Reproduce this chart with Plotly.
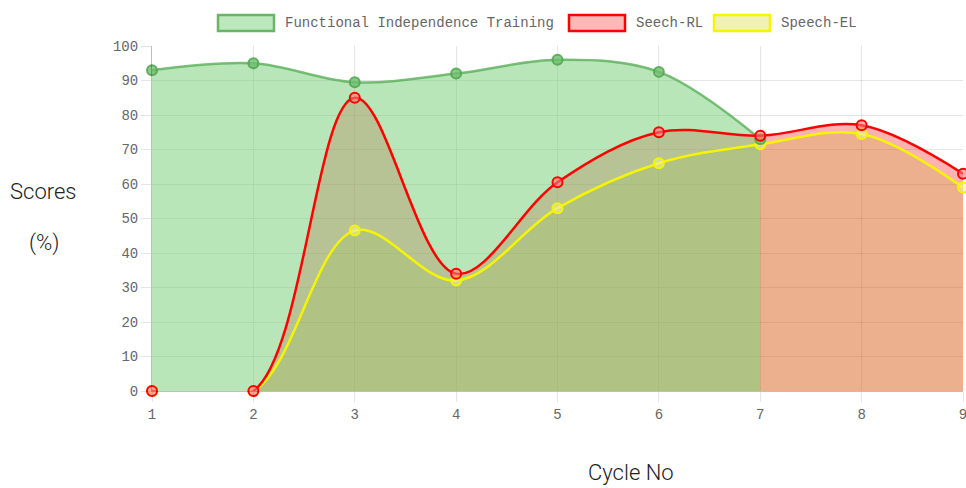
import plotly.graph_objects as go

cycles = [1, 2, 3, 4, 5, 6, 7, 8, 9]
fit_cycles = [1, 2, 3, 4, 5, 6, 7]
fit_scores = [93, 95, 89.5, 92, 96, 92.5, 73]
speech_rl = [0, 0, 85, 34, 60.5, 75, 74, 77, 63]
speech_el = [0, 0, 46.5, 32, 53, 66, 71.5, 74.5, 59]
series_names = ["Functional Independence Training", "Seech-RL", "Speech-EL"]
y_ticks = [0, 10, 20, 30, 40, 50, 60, 70, 80, 90, 100]

W, H = 966, 488
ML, MR, MT, MB = 152, 3, 46, 97
PW, PH = W - ML - MR, H - MT - MB


def px(x):  # screenshot x -> paper
    return (x - ML) / PW


def py(y):  # screenshot y -> paper
    return (H - MB - y) / PH


fig = go.Figure()

RED, YEL, GRN = "#ff0000", "#f5f500", "rgba(90,175,90,0.8)"

# fills, bottom -> top: red, yellow, green
fig.add_trace(go.Scatter(
    x=cycles, y=speech_rl, mode="none",
    line=dict(shape="spline", smoothing=1.0),
    fill="tozeroy", fillcolor="rgba(255,0,0,0.3)", showlegend=False, hoverinfo="skip",
))
fig.add_trace(go.Scatter(
    x=cycles, y=speech_el, mode="none",
    line=dict(shape="spline", smoothing=1.0),
    fill="tozeroy", fillcolor="rgba(183,170,34,0.25)", showlegend=False, hoverinfo="skip",
))
fig.add_trace(go.Scatter(
    x=fit_cycles, y=fit_scores, mode="none",
    line=dict(shape="spline", smoothing=1.0),
    fill="tozeroy", fillcolor="rgba(123,209,123,0.54)", showlegend=False, hoverinfo="skip",
))

# lines + points, bottom -> top: yellow, green, red
fig.add_trace(go.Scatter(
    x=cycles, y=speech_el, name=series_names[2], mode="lines+markers",
    line=dict(color=YEL, width=2.5, shape="spline", smoothing=1.0),
    marker=dict(size=10, color="rgba(240,240,150,0.6)", line=dict(color=YEL, width=2)),
    cliponaxis=False, showlegend=False,
))
fig.add_trace(go.Scatter(
    x=fit_cycles, y=fit_scores, name=series_names[0], mode="lines+markers",
    line=dict(color=GRN, width=2.5, shape="spline", smoothing=1.0),
    marker=dict(size=10, color="rgba(110,190,110,0.8)", line=dict(color="rgba(80,165,80,0.85)", width=2)),
    cliponaxis=False, showlegend=False,
))
fig.add_trace(go.Scatter(
    x=cycles, y=speech_rl, name=series_names[1], mode="lines+markers",
    line=dict(color=RED, width=2.5, shape="spline", smoothing=1.0),
    marker=dict(size=10, color="rgba(255,120,120,0.6)", line=dict(color=RED, width=2)),
    cliponaxis=False, showlegend=False,
))

grid = "rgba(0,0,0,0.1)"
tickfont = dict(family="Liberation Mono", size=14, color="#666666")

fig.update_xaxes(
    range=[1, 9], tickvals=cycles, ticktext=[str(c) for c in cycles],
    showgrid=True, gridcolor=grid, gridwidth=1, zeroline=False,
    showline=True, linecolor="rgba(0,0,0,0.25)", linewidth=1,
    ticks="outside", ticklen=10, tickcolor=grid, tickfont=tickfont,
    ticklabeloverflow="allow",
)
fig.update_yaxes(
    range=[0, 100], tickvals=y_ticks,
    showgrid=True, gridcolor=grid, gridwidth=1, zeroline=False,
    showline=True, linecolor="rgba(0,0,0,0.25)", linewidth=1,
    ticks="outside", ticklen=10, tickcolor=grid, tickfont=tickfont,
    ticklabeloverflow="allow",
)

# legend (Chart.js style boxes)
legend_boxes = [
    (218, 274, "rgba(123,209,123,0.5)", "rgba(90,175,90,0.9)"),
    (569, 625, "rgba(255,0,0,0.28)", "#ff0000"),
    (714, 770, "rgba(230,230,120,0.55)", "#f5f500"),
]
for (x0, x1, fc, lc), name in zip(legend_boxes, series_names):
    fig.add_shape(type="rect", xref="paper", yref="paper",
                  x0=px(x0), x1=px(x1), y0=py(31), y1=py(15),
                  fillcolor=fc, line=dict(color=lc, width=2.5))
    fig.add_annotation(x=px(x1 + 9), y=py(23), xref="paper", yref="paper",
                       text=name, showarrow=False, xanchor="left", yanchor="middle",
                       font=dict(family="Liberation Mono", size=14, color="#666666"))

title_font = dict(family="Roboto", size=22, color="#222222", weight=300)
fig.add_annotation(x=px(43), y=py(191), xref="paper", yref="paper", text="Scores",
                   showarrow=False, xanchor="center", yanchor="middle", font=title_font)
fig.add_annotation(x=px(44), y=py(243), xref="paper", yref="paper", text="(%)",
                   showarrow=False, xanchor="center", yanchor="middle", font=title_font)
fig.add_annotation(x=px(631), y=py(487), xref="paper", yref="paper", text="Cycle No",
                   showarrow=False, xanchor="center", yanchor="bottom", font=title_font)

fig.update_layout(
    width=W, height=H,
    margin=dict(l=ML, r=MR, t=MT, b=MB, autoexpand=False),
    plot_bgcolor="white", paper_bgcolor="white",
    showlegend=False,
)

fig.write_html(
    "out.html",
    config={"displayModeBar": False},
    post_script="document.body.style.margin='0';"
                "document.documentElement.style.overflow='hidden';"
                "document.body.style.overflow='hidden';",
)
